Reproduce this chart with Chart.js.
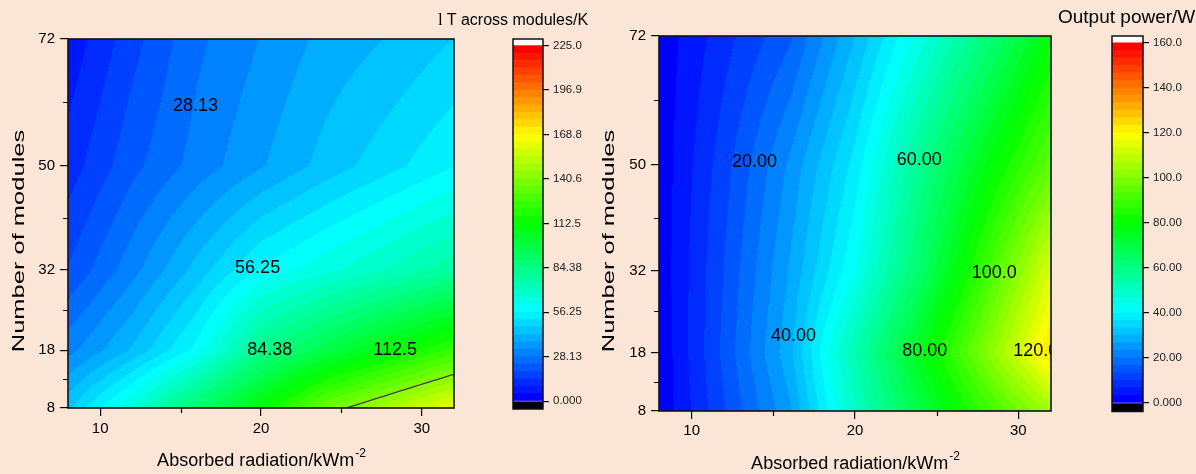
<!DOCTYPE html>
<html>
<head>
<meta charset="utf-8">
<script src="https://cdn.jsdelivr.net/npm/chart.js@4.4.1/dist/chart.umd.min.js"></script>
<style>
    html, body { margin: 0; padding: 0; background: #fae5d7; }
    #wrap { position: relative; width: 1196px; height: 474px; overflow: hidden; }
    canvas { position: absolute; top: 0; }
</style>
</head>
<body>
<div id="wrap">
    <canvas id="dtChart" width="598" height="474" style="left:0px"></canvas>
    <canvas id="dtBar" width="98" height="474" style="left:500px"></canvas>
    <canvas id="powChart" width="598" height="474" style="left:598px"></canvas>
    <canvas id="powBar" width="98" height="474" style="left:1098px"></canvas>
</div>
<script>
// grid of the simulation: absorbed radiation (kW/m2) x number of modules
const radiation = [8, 12, 16, 20, 24, 28, 32];
const modules = [8, 18, 32, 50, 72];

const radiationTicks = [10, 20, 30];
const radiationMinorTicks = [15, 25];
const moduleTicks = [8, 18, 32, 50, 72];
const moduleMinorTicks = [13, 25, 41, 61];

// temperature difference across modules (K), one row per module count
const deltaT_8 = [46, 66, 90, 112, 136, 150, 164];
const deltaT_18 = [31, 43, 58, 83, 97, 110.5, 124];
const deltaT_32 = [19, 31, 44, 57, 64, 71, 78];
const deltaT_50 = [11.5, 22, 30, 37, 44, 50, 56];
const deltaT_72 = [6, 17, 27, 33, 39, 42.5, 47];

// output power (W), one row per module count
const power_8 = [0.5, 13, 26, 50, 70, 88, 105];
const power_18 = [0.5, 14.3, 29, 53, 76, 100, 124];
const power_32 = [1, 13.5, 27, 43, 64, 89, 114];
const power_50 = [1, 12, 24, 38, 58, 77, 95];
const power_72 = [1, 8.7, 16, 30, 45, 61, 79];

// colour scale ticks
const deltaTScaleTicks = [0, 28.125, 56.25, 84.375, 112.5, 140.625, 168.75, 196.875, 225];
const deltaTScaleLabels = ['0.000', '28.13', '56.25', '84.38', '112.5', '140.6', '168.8', '196.9', '225.0'];
const powerScaleTicks = [0, 20, 40, 60, 80, 100, 120, 140, 160];
const powerScaleLabels = ['0.000', '20.00', '40.00', '60.00', '80.00', '100.0', '120.0', '140.0', '160.0'];

// contour labels (text, radiation, modules)
const deltaTLabels = [['28.13', 15.93, 60.3], ['56.25', 19.79, 32.2], ['84.38', 20.54, 18.1], ['112.5', 28.34, 18.1]];
const powerLabels = [['20.00', 13.85, 50.5], ['60.00', 23.94, 50.8], ['40.00', 16.23, 20.85], ['80.00', 24.27, 18.15], ['100.0', 28.52, 31.6], ['120.0', 31.07, 18.15]];
const deltaTLineLevels = [140.625];

const LEVELS = 48;
const FONT = '"Liberation Sans", Arial, sans-serif';

const rainbowStops = [[0, 0, 0, 255], [0.25, 0, 255, 255], [0.5, 0, 255, 0], [0.75, 255, 255, 0], [1, 255, 0, 0]];
function rainbow(t) {
    t = Math.min(1, Math.max(0, t));
    for (let i = 0; i < rainbowStops.length - 1; i++) {
        const a = rainbowStops[i], b = rainbowStops[i + 1];
        if (t <= b[0]) {
            const f = (t - a[0]) / (b[0] - a[0]);
            return [0, 1, 2].map(c => Math.round(a[c + 1] + (b[c + 1] - a[c + 1]) * f));
        }
    }
    return [255, 0, 0];
}
function bandColor(k) { return rainbow(k / (LEVELS - 1)); }
function rgb(c) { return 'rgb(' + c.join(',') + ')'; }

function locate(arr, v) {
    let i = 0;
    while (i < arr.length - 2 && v > arr[i + 1]) i++;
    const t = Math.min(1, Math.max(0, (v - arr[i]) / (arr[i + 1] - arr[i])));
    return [i, t];
}

function gridValue(rows, xv, yv) {
    const [i, tx] = locate(radiation, xv);
    const [j, ty] = locate(modules, yv);
    const a = rows[j][i], b = rows[j][i + 1], c = rows[j + 1][i], d = rows[j + 1][i + 1];
    return (a * (1 - tx) + b * tx) * (1 - ty) + (c * (1 - tx) + d * tx) * ty;
}

function drawContourLine(ctx, rows, level, sx, sy) {
    const sub = 12;
    ctx.beginPath();
    for (let j = 0; j < modules.length - 1; j++) {
        for (let i = 0; i < radiation.length - 1; i++) {
            const dx = (radiation[i + 1] - radiation[i]) / sub, dy = (modules[j + 1] - modules[j]) / sub;
            for (let b = 0; b < sub; b++) {
                for (let a = 0; a < sub; a++) {
                    const x0 = radiation[i] + a * dx, y0 = modules[j] + b * dy;
                    const c = [[x0, y0], [x0 + dx, y0], [x0 + dx, y0 + dy], [x0, y0 + dy]];
                    const v = c.map(p => gridValue(rows, p[0], p[1]));
                    const pts = [];
                    for (let e = 0; e < 4; e++) {
                        const p = c[e], q = c[(e + 1) % 4], vp = v[e], vq = v[(e + 1) % 4];
                        if ((vp - level) * (vq - level) < 0) {
                            const t = (level - vp) / (vq - vp);
                            pts.push([p[0] + t * (q[0] - p[0]), p[1] + t * (q[1] - p[1])]);
                        }
                    }
                    for (let n = 0; n + 1 < pts.length; n += 2) {
                        ctx.moveTo(sx.getPixelForValue(pts[n][0]), sy.getPixelForValue(pts[n][1]));
                        ctx.lineTo(sx.getPixelForValue(pts[n + 1][0]), sy.getPixelForValue(pts[n + 1][1]));
                    }
                }
            }
        }
    }
    ctx.stroke();
}

function contourPlugin(opt) {
    return {
        id: 'contour',
        beforeDatasetsDraw(chart) {
            const { ctx, chartArea: area, scales: { x, y } } = chart;
            const left = Math.round(area.left), top = Math.round(area.top);
            const w = Math.round(area.right) - left, h = Math.round(area.bottom) - top;
            const img = ctx.createImageData(w, h);
            for (let j = 0; j < h; j++) {
                const yv = y.getValueForPixel(top + j + 0.5);
                for (let i = 0; i < w; i++) {
                    const xv = x.getValueForPixel(left + i + 0.5);
                    const v = gridValue(opt.rows, xv, yv);
                    const k = Math.min(LEVELS - 1, Math.max(0, Math.floor(v / opt.step)));
                    const c = bandColor(k);
                    const p = (j * w + i) * 4;
                    img.data[p] = c[0]; img.data[p + 1] = c[1]; img.data[p + 2] = c[2]; img.data[p + 3] = 255;
                }
            }
            ctx.putImageData(img, left, top);
        },
        afterDatasetsDraw(chart) {
            const { ctx, chartArea: area, scales: { x, y } } = chart;
            ctx.save();
            ctx.beginPath();
            ctx.rect(area.left, area.top, area.right - area.left, area.bottom - area.top);
            ctx.clip();
            ctx.strokeStyle = '#4a3a4c';
            ctx.lineWidth = 1.3;
            ctx.lineCap = 'round';
            (opt.lineLevels || []).forEach(l => drawContourLine(ctx, opt.rows, l, x, y));
            ctx.fillStyle = '#000';
            ctx.font = '18px ' + FONT;
            ctx.textAlign = 'center';
            ctx.textBaseline = 'middle';
            opt.labels.forEach(l => ctx.fillText(l[0], x.getPixelForValue(l[1]), y.getPixelForValue(l[2])));
            ctx.restore();
        },
        afterDraw(chart) {
            const { ctx, chartArea: area, scales: { x, y } } = chart;
            ctx.save();
            ctx.strokeStyle = '#000';
            ctx.lineWidth = 1.2;
            ctx.beginPath();
            moduleMinorTicks.forEach(v => {
                const py = Math.round(y.getPixelForValue(v)) + 0.5;
                ctx.moveTo(area.left - 5, py); ctx.lineTo(area.left, py);
            });
            radiationMinorTicks.forEach(v => {
                const px = Math.round(x.getPixelForValue(v)) + 0.5;
                ctx.moveTo(px, area.bottom); ctx.lineTo(px, area.bottom + 5);
            });
            ctx.stroke();
            ctx.lineWidth = 1.6;
            ctx.strokeStyle = '#111';
            ctx.strokeRect(area.left, area.top, area.right - area.left, area.bottom - area.top);

            ctx.fillStyle = '#000';
            // x title with superscript
            const main = 'Absorbed radiation/kWm', sup = '-2';
            ctx.font = '18px ' + FONT;
            const mw = ctx.measureText(main).width;
            ctx.font = '12px ' + FONT;
            const sw = ctx.measureText(sup).width;
            const cx = (area.left + area.right) / 2;
            const x0 = cx - (mw + sw) / 2;
            ctx.textAlign = 'left';
            ctx.textBaseline = 'alphabetic';
            ctx.font = '18px ' + FONT;
            ctx.fillText(main, x0, opt.xTitleBase);
            ctx.font = '12px ' + FONT;
            ctx.fillText(sup, x0 + mw + 1, opt.xTitleBase - 9);

            // y title, stretched along its length like the original export
            ctx.save();
            ctx.translate(opt.yTitleX, 241);
            ctx.rotate(-Math.PI / 2);
            ctx.scale(1.5, 1);
            ctx.font = '17px ' + FONT;
            ctx.textAlign = 'center';
            ctx.textBaseline = 'middle';
            ctx.fillText('Number of modules', 0, 0);
            ctx.restore();

            // colour scale title
            ctx.textAlign = 'left';
            let tx = opt.titleX;
            if (opt.titlePrefix) {
                ctx.font = (opt.titleSize + 1) + 'px "Liberation Serif", "Times New Roman", serif';
                ctx.fillText(opt.titlePrefix, tx, opt.titleBase);
                tx += ctx.measureText(opt.titlePrefix).width + 4;
            }
            ctx.font = opt.titleSize + 'px ' + FONT;
            ctx.fillText(opt.title, tx, opt.titleBase);
            ctx.restore();
        }
    };
}

function contourChart(id, opt) {
    const tickFont = { family: FONT, size: 15 };
    return new Chart(document.getElementById(id), {
        type: 'scatter',
        data: { datasets: [{ data: [] }] },
        options: {
            responsive: false,
            animation: false,
            events: [],
            layout: { padding: { top: opt.padTop, right: opt.padRight, left: 0, bottom: 0 } },
            plugins: { legend: { display: false }, tooltip: { enabled: false } },
            scales: {
                x: {
                    type: 'linear', min: 8, max: 32,
                    afterBuildTicks: s => { s.ticks = radiationTicks.map(v => ({ value: v })); },
                    afterFit: s => { s.height = opt.xAxisHeight; },
                    ticks: { font: tickFont, color: '#000', padding: opt.xPad, callback: v => String(v) },
                    grid: { drawOnChartArea: false, tickLength: 8, color: '#000', lineWidth: 1.2 },
                    border: { display: false }
                },
                y: {
                    type: 'linear', min: 8, max: 72,
                    afterBuildTicks: s => { s.ticks = moduleTicks.map(v => ({ value: v })); },
                    afterFit: s => { s.width = opt.yAxisWidth; },
                    ticks: { font: tickFont, color: '#000', padding: 5, callback: v => String(v) },
                    grid: { drawOnChartArea: false, tickLength: 8, color: '#000', lineWidth: 1.2 },
                    border: { display: false }
                }
            }
        },
        plugins: [contourPlugin(opt)]
    });
}

const framePlugin = {
    id: 'frame',
    afterDraw(chart) {
        const { ctx, chartArea: a } = chart;
        ctx.save();
        ctx.strokeStyle = '#111';
        ctx.lineWidth = 1.5;
        ctx.strokeRect(a.left, a.top, a.right - a.left, a.bottom - a.top);
        ctx.restore();
    }
};

function colorBar(id, opt) {
    const sets = [{ data: [[opt.min, 0]], backgroundColor: '#000' }];
    for (let k = 0; k < LEVELS; k++) {
        sets.push({ data: [[k * opt.step, (k + 1) * opt.step]], backgroundColor: rgb(bandColor(k)) });
    }
    sets.push({ data: [[LEVELS * opt.step, opt.max]], backgroundColor: '#fff' });
    return new Chart(document.getElementById(id), {
        type: 'bar',
        data: { labels: [''], datasets: sets },
        options: {
            responsive: false,
            animation: false,
            events: [],
            layout: { padding: { top: opt.padTop, bottom: opt.padBottom, left: opt.padLeft, right: 0 } },
            datasets: { bar: { grouped: false, barPercentage: 1, categoryPercentage: 1, borderWidth: 0 } },
            plugins: { legend: { display: false }, tooltip: { enabled: false } },
            scales: {
                x: { display: false },
                y: {
                    position: 'right', min: opt.min, max: opt.max,
                    afterBuildTicks: s => { s.ticks = opt.ticks.map(v => ({ value: v })); },
                    afterFit: s => { s.width = opt.axisWidth; },
                    ticks: {
                        font: { family: FONT, size: 11.5 }, color: '#222', padding: 4,
                        callback: (v, i) => opt.labels[i]
                    },
                    grid: { drawOnChartArea: false, tickLength: 6, color: '#000', lineWidth: 1.2 },
                    border: { display: false }
                }
            }
        },
        plugins: [framePlugin]
    });
}

contourChart('dtChart', {
    rows: [deltaT_8, deltaT_18, deltaT_32, deltaT_50, deltaT_72],
    step: 225 / LEVELS,
    labels: deltaTLabels,
    lineLevels: deltaTLineLevels,
    padTop: 39, padRight: 144, xAxisHeight: 66, yAxisWidth: 68, xPad: 4,
    xTitleBase: 466, yTitleX: 19,
    titleX: 438, titleBase: 25, titleSize: 16, titlePrefix: 'l', title: 'T across modules/K'
});

contourChart('powChart', {
    rows: [power_8, power_18, power_32, power_50, power_72],
    step: 160 / LEVELS,
    labels: powerLabels,
    lineLevels: [],
    padTop: 36, padRight: 145, xAxisHeight: 63, yAxisWidth: 61, xPad: 3,
    xTitleBase: 469, yTitleX: 11.5,
    titleX: 460, titleBase: 23, titleSize: 19, title: 'Output power/W'
});

colorBar('dtBar', {
    step: 225 / LEVELS, min: -5, max: 229.2,
    ticks: deltaTScaleTicks, labels: deltaTScaleLabels,
    padTop: 39, padBottom: 65, padLeft: 13, axisWidth: 55
});

colorBar('powBar', {
    step: 160 / LEVELS, min: -3.8, max: 163,
    ticks: powerScaleTicks, labels: powerScaleLabels,
    padTop: 36, padBottom: 62.5, padLeft: 14, axisWidth: 53
});
</script>
</body>
</html>
